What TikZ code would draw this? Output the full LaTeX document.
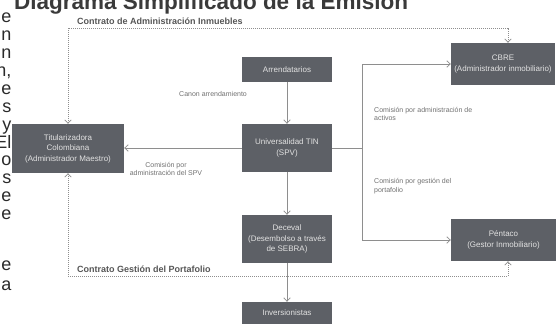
\documentclass[tikz,border=0pt]{standalone}
\usepackage{fontspec}
\setmainfont{Liberation Sans}
\usetikzlibrary{arrows.meta}
\definecolor{boxfill}{HTML}{5D6066}
\definecolor{linec}{HTML}{8E8E8E}
\definecolor{labelc}{HTML}{707070}
\definecolor{boldc}{HTML}{555555}
\definecolor{titlec}{HTML}{3A3A3A}
\definecolor{boxtext}{HTML}{E2E2E2}
\definecolor{bodyc}{HTML}{2A2A2A}
\tikzset{
  box/.style={fill=boxfill, text=boxtext, font=\fontsize{8}{10.5}\selectfont, align=center, inner sep=0pt},
  lab/.style={text=labelc, font=\fontsize{7}{8.5}\selectfont, inner sep=0pt},
  boldlab/.style={text=boldc, font=\fontsize{9}{11}\selectfont\bfseries, inner sep=0pt},
  conn/.style={draw=linec, line width=0.75pt, -{Straight Barb[length=3.5pt,width=6.5pt]}},
  plain/.style={draw=linec, line width=0.75pt},
  dotcon/.style={draw=linec, line width=0.7pt, dash pattern=on 1pt off 1pt,
     {Straight Barb[length=3.5pt,width=6.5pt]}-{Straight Barb[length=3.5pt,width=6.5pt]}},
  bodytxt/.style={text=bodyc, font=\fontsize{18}{20}\selectfont, inner sep=0pt, anchor=base east}
}
\begin{document}
\begin{tikzpicture}[x=1pt,y=-1pt]
\useasboundingbox (0,0) rectangle (558,324);
\clip (0,0) rectangle (558,324);
% title (cut by the top edge)
\node[text=titlec, font=\fontsize{22.5}{26}\selectfont\bfseries, inner sep=0pt, anchor=base west] (title) at (14,9.5) {Diagrama Simplificado de la Emisión};
% fragments of body text at left
\node[bodytxt] (b1) at (11.5,22.7) {e};
\node[bodytxt] (b2) at (11.5,40.6) {n};
\node[bodytxt] (b3) at (11.5,58.5) {n};
\node[bodytxt] (b4) at (11.5,76.4) {n,};
\node[bodytxt] (b5) at (11.5,94.3) {e};
\node[bodytxt] (b6) at (11.5,112.2) {s};
\node[bodytxt] (b7) at (11.5,130.1) {y};
\node[bodytxt] (b8) at (11.5,148) {El};
\node[bodytxt] (b9) at (11.5,165.9) {o};
\node[bodytxt] (b10) at (11.5,183.8) {s};
\node[bodytxt] (b11) at (11.5,201.7) {e};
\node[bodytxt] (b12) at (11.5,219.6) {e};
\node[bodytxt] (b14) at (11.5,270.7) {e};
\node[bodytxt] (b15) at (11.5,290.7) {a};
% boxes
\node[box, minimum width=112pt, minimum height=49pt] (titu) at (68,148.5) {Titularizadora\\Colombiana\\(Administrador Maestro)};
\node[box, minimum width=90pt, minimum height=25pt] (arren) at (287,69.5) {Arrendatarios};
\node[box, minimum width=90pt, minimum height=48pt] (univ) at (287,148) {Universalidad TIN\\(SPV)};
\node[box, minimum width=90pt, minimum height=48pt] (dec) at (287,239) {Deceval\\(Desembolso a través\\de SEBRA)};
\node[box, minimum width=90pt, minimum height=22pt] (inv) at (287,313) {Inversionistas};
\node[box, minimum width=104pt, minimum height=42pt] (cbre) at (503,64) {CBRE\\(Administrador inmobiliario)};
\node[box, minimum width=105pt, minimum height=42pt] (pent) at (503.5,240) {Péntaco\\(Gestor Inmobiliario)};
% labels
\node[boldlab, anchor=west] (lcai) at (77,21) {Contrato de Administración Inmuebles};
\node[boldlab, anchor=west] (lcgp) at (77,269) {Contrato Gestión del Portafolio};
\node[lab, anchor=west] (lcanon) at (179,94) {Canon arrendamiento};
\node[lab, anchor=west, align=left] (lact) at (374,114) {Comisión por administración de\\activos};
\node[lab, anchor=west, align=left] (lgest) at (374,186) {Comisión por gestión del\\portafolio};
\node[lab, align=center] (lspv) at (166,169) {Comisión por\\administración del SPV};
% connectors
\coordinate (split) at (362,148);
\coordinate (tl) at (68,28);
\coordinate (tr) at (508,28);
\coordinate (bl) at (68,276);
\coordinate (br) at (508,276);
\draw[conn] (arren) -- (univ);
\draw[conn] (univ.west) -- (univ.west -| titu.east);
\draw[plain] (univ.east) -- (split);
\draw[conn] (split) |- (cbre.west);
\draw[conn] (split) |- (pent.west);
\draw[conn] (univ) -- (dec);
\draw[conn] (dec) -- (inv);
\draw[dotcon] (titu.north) -- (tl) -- (tr) -- (tr |- cbre.north);
\draw[dotcon] (titu.south) -- (bl) -- (br) -- (br |- pent.south);
\end{tikzpicture}
\end{document}
